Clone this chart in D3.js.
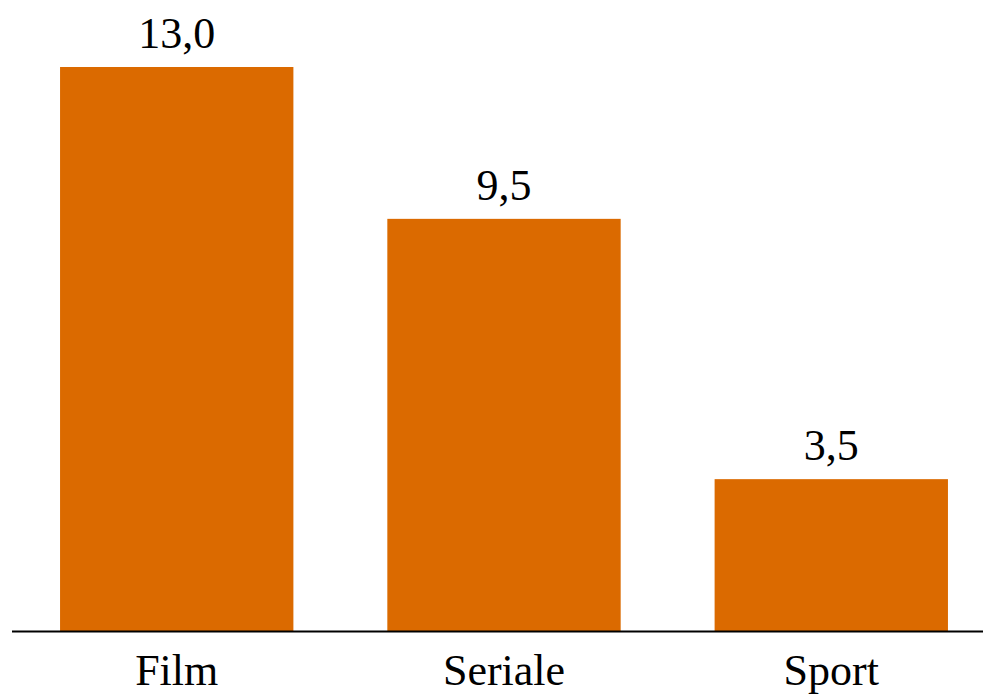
<!DOCTYPE html>
<html lang="it">
  <head>
    <meta charset="UTF-8" />
    <title>Film, Seriale, Sport</title>
    <style>
      html, body { margin: 0; padding: 0; background: #fff; }
      svg { display: block; font-family: 'Liberation Serif', 'DejaVu Serif', serif; }
    </style>
  </head>
  <body>
    <svg width="983" height="694"></svg>
    <script src="https://d3js.org/d3.v7.min.js"></script>
    <script>
      const categories = ['Film', 'Seriale', 'Sport'];
      const values = [13.0, 9.5, 3.5];

      const svg = d3.select('svg'),
        baseY = 631;

      const x = d3
        .scaleBand()
        .domain(categories)
        .range([17.5, 990.5])
        .paddingInner(0.287)
        .paddingOuter(0.13);

      const y = d3.scaleLinear().domain([0, 13]).range([baseY, 67]);

      const fmt = (v) => d3.format('.1f')(v).replace('.', ',');

      svg
        .selectAll('rect')
        .data(values)
        .enter()
        .append('rect')
        .attr('x', (d, i) => x(categories[i]))
        .attr('y', (d) => y(d))
        .attr('width', x.bandwidth())
        .attr('height', (d) => baseY - y(d))
        .attr('fill', '#db6a00');

      svg
        .selectAll('text.val')
        .data(values)
        .enter()
        .append('text')
        .attr('class', 'val')
        .attr('x', (d, i) => x(categories[i]) + x.bandwidth() / 2)
        .attr('y', (d) => y(d) - 19)
        .attr('text-anchor', 'middle')
        .attr('font-size', 44)
        .attr('fill', '#000')
        .text(fmt);

      // baseline
      svg
        .append('line')
        .attr('x1', 12)
        .attr('x2', 983)
        .attr('y1', baseY + 0.5)
        .attr('y2', baseY + 0.5)
        .attr('stroke', '#000')
        .attr('stroke-width', 2);

      svg
        .selectAll('text.cat')
        .data(categories)
        .enter()
        .append('text')
        .attr('class', 'cat')
        .attr('x', (d) => x(d) + x.bandwidth() / 2)
        .attr('y', 685)
        .attr('text-anchor', 'middle')
        .attr('font-size', 44)
        .attr('fill', '#000')
        .text((d) => d);
    </script>
  </body>
</html>
